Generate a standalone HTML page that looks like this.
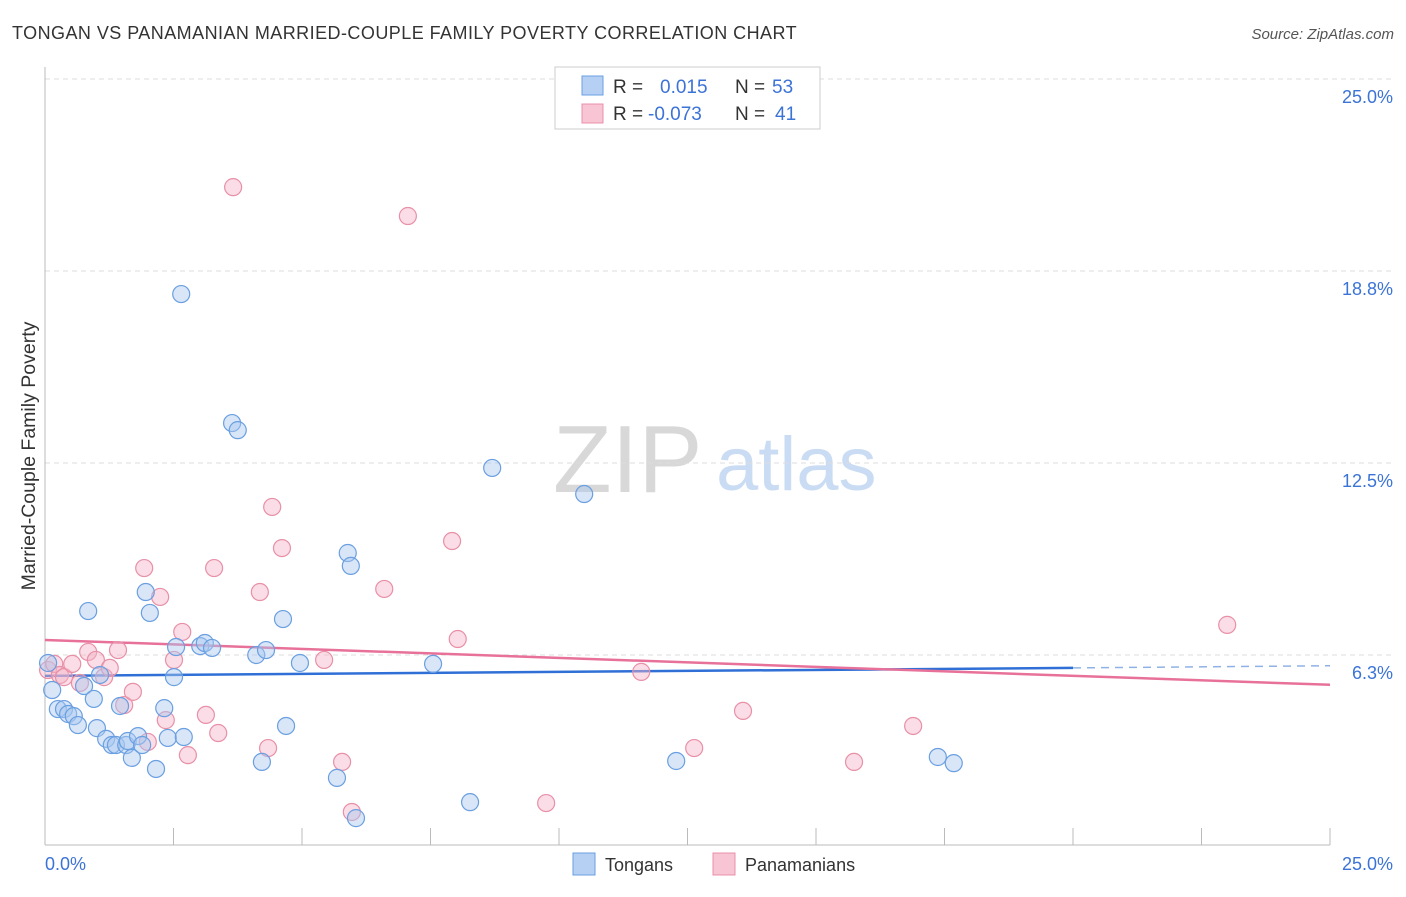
<!DOCTYPE html>
<html><head><meta charset="utf-8"><style>
body{margin:0;background:#fff;font-family:"Liberation Sans",sans-serif;}
svg text{font-family:"Liberation Sans",sans-serif;}
</style></head><body>
<svg id="chart" width="1406" height="892" viewBox="0 0 1406 892" xmlns="http://www.w3.org/2000/svg">
<text x="12" y="39" font-size="18" fill="#333" letter-spacing="0.45">TONGAN VS PANAMANIAN MARRIED-COUPLE FAMILY POVERTY CORRELATION CHART</text>
<text x="1394" y="39" font-size="15" fill="#555" text-anchor="end" font-style="italic">Source: ZipAtlas.com</text>
<g>
<text x="553" y="492" font-size="96" fill="#d8d8d8" font-family="Liberation Serif, serif">ZIP</text>
<text x="716" y="490" font-size="76" fill="#c9dcf3">atlas</text>
</g>
<g id="grid"></g>
<g id="axes"></g>
<g id="trends"></g>
<g id="points"></g>
<g>
<rect x="555" y="67" width="265" height="62" fill="#fff" stroke="#ccc"/>
<rect x="582" y="76" width="21" height="19" fill="#b6d0f3" stroke="#6a9fe0"/>
<rect x="582" y="104" width="21" height="19" fill="#f8c5d5" stroke="#e890a8"/>
<text x="613" y="93" font-size="19" fill="#333">R =</text>
<text x="660" y="93" font-size="19" fill="#3b73d6">0.015</text>
<text x="735" y="93" font-size="19" fill="#333">N =</text>
<text x="772" y="93" font-size="19" fill="#3b73d6">53</text>
<text x="613" y="120" font-size="19" fill="#333">R =</text>
<text x="648" y="120" font-size="19" fill="#3b73d6">-0.073</text>
<text x="735" y="120" font-size="19" fill="#333">N =</text>
<text x="775" y="120" font-size="19" fill="#3b73d6">41</text>
</g>
<g>
<rect x="573" y="853" width="22" height="22" fill="#b6d0f3" stroke="#6a9fe0"/>
<text x="605" y="871" font-size="18" fill="#333">Tongans</text>
<rect x="713" y="853" width="22" height="22" fill="#f8c5d5" stroke="#e890a8"/>
<text x="745" y="871" font-size="18" fill="#333">Panamanians</text>
</g>
<text transform="translate(35,456) rotate(-90)" font-size="19.5" fill="#333" text-anchor="middle">Married-Couple Family Poverty</text>
</svg>
<script>
const tongX=[0.06,0.14,0.25,0.37,0.45,0.56,0.64,0.76,0.84,0.95,1.01,1.07,1.19,1.30,1.38,1.46,1.58,1.61,1.69,1.81,1.89,1.96,2.04,2.16,2.32,2.39,2.51,2.55,2.65,2.70,3.02,3.11,3.25,3.64,3.75,4.11,4.22,4.30,4.63,4.69,4.96,5.68,5.89,5.95,6.05,7.55,8.27,8.70,10.49,12.28,17.37,17.68];
const tongY=[5.99,5.11,4.49,4.49,4.33,4.26,3.97,5.24,7.68,4.82,3.87,5.60,3.52,3.32,3.32,4.59,3.32,3.45,2.90,3.61,3.32,8.30,7.62,2.54,4.52,3.55,5.53,6.51,18.00,3.58,6.54,6.64,6.48,13.80,13.57,6.25,2.77,6.41,7.42,3.94,5.99,2.25,9.57,9.15,0.94,5.96,1.46,12.34,11.49,2.80,2.93,2.73];
const panX=[0.06,0.18,0.29,0.37,0.53,0.68,0.84,0.99,1.15,1.26,1.42,1.54,1.71,1.93,2.00,2.24,2.35,2.51,2.67,2.78,3.13,3.29,3.37,3.66,4.18,4.34,4.42,4.61,5.43,5.78,5.97,6.60,7.06,7.92,8.03,9.75,11.60,12.63,13.58,15.74,16.89,23.00];
const panY=[5.76,5.96,5.60,5.53,5.96,5.34,6.35,6.09,5.53,5.83,6.41,4.62,5.05,9.08,3.42,8.14,4.13,6.09,7.00,2.99,4.30,9.08,3.71,21.48,8.30,3.22,11.07,9.73,6.09,2.77,1.14,8.40,20.54,9.96,6.77,1.43,5.70,3.22,4.43,2.77,3.94,7.23];
const tongTrend=[5.57,5.83,5.90];   // at x=0, 20, 25
const panTrend=[6.74,5.28];         // at x=0, 25
const yTicks=[25.0,18.75,12.5,6.25];
const yTickLabels=["25.0%","18.8%","12.5%","6.3%"];
const xTickVals=[0,2.5,5,7.5,10,12.5,15,17.5,20,22.5,25];

const NS="http://www.w3.org/2000/svg";
const X=v=>45+v/25*1285;
const Y=v=>847-v*30.72;
function mk(tag,parent,attrs){const e=document.createElementNS(NS,tag);for(const k in attrs)e.setAttribute(k,attrs[k]);document.getElementById(parent).appendChild(e);return e;}

yTicks.forEach((t,i)=>{
  const l=mk('line','grid',{x1:45,x2:1394,y1:Y(t),y2:Y(t),stroke:'#ddd','stroke-dasharray':'5,4'});
  
  
  const tx=mk('text','grid',{x:1393,y:Y(t)+24,'font-size':18,fill:'#3b73d6','text-anchor':'end'});
  tx.textContent=yTickLabels[i];
  
  
});
const ax=mk('line','axes',{x1:45,x2:45,y1:67,y2:845,stroke:'#bbb'});


const bx=mk('line','axes',{x1:45,x2:1330,y1:845,y2:845,stroke:'#bbb'});


xTickVals.forEach(v=>{
  const t=mk('line','axes',{x1:X(v),x2:X(v),y1:828,y2:845,stroke:'#bbb'});
  
  
});
const xl0=mk('text','axes',{x:45,y:870,'font-size':18,fill:'#3b73d6'});xl0.textContent='0.0%';


const xl1=mk('text','axes',{x:1393,y:870,'font-size':18,fill:'#3b73d6','text-anchor':'end'});xl1.textContent='25.0%';



function dot(x,y,f,s,name){const c=mk('circle','points',{cx:X(x),cy:Y(y),r:8.5,fill:f,'fill-opacity':0.45,stroke:s,'stroke-width':1.2});
  
  }
panX.forEach((x,i)=>dot(x,panY[i],'#f5b3c8','#e890a8','panamanian-point'));
tongX.forEach((x,i)=>dot(x,tongY[i],'#a8c8f0','#6a9fe0','tongan-point'));

const t1=mk('line','trends',{x1:X(0),y1:Y(tongTrend[0]),x2:X(20),y2:Y(tongTrend[1]),stroke:'#2f6fd6','stroke-width':2.5});


const t2=mk('line','trends',{x1:X(20),y1:Y(tongTrend[1]),x2:X(25),y2:Y(tongTrend[2]),stroke:'#8fb2e6','stroke-width':1.5,'stroke-dasharray':'8,6'});


const t3=mk('line','trends',{x1:X(0),y1:Y(panTrend[0]),x2:X(25),y2:Y(panTrend[1]),stroke:'#e8719a','stroke-width':2.5});


</script>
</body></html>
